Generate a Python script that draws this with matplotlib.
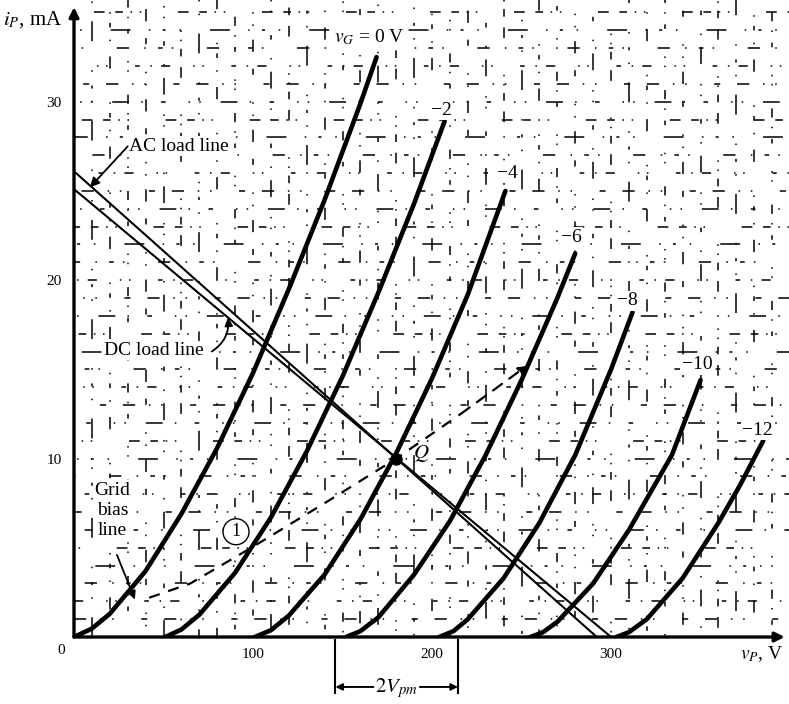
import numpy as np
import matplotlib.pyplot as plt

plt.rcParams['font.family'] = ['Liberation Serif', 'DejaVu Serif']
plt.rcParams['mathtext.fontset'] = 'stix'

# plate characteristics (vP in V, iP in mA), one pair of lists per grid voltage
vp_g0 = [0, 10, 20, 40, 60, 80, 100, 120, 140, 160, 169]
ip_g0 = [0, 0.47, 1.3, 3.7, 6.9, 10.6, 14.8, 19.5, 24.5, 29.9, 32.5]
vp_g2 = [51, 60, 70, 90, 110, 130, 150, 170, 190, 207]
ip_g2 = [0, 0.42, 1.25, 3.6, 6.7, 10.4, 14.6, 19.3, 24.3, 28.9]
vp_g4 = [101, 110, 120, 140, 160, 180, 200, 220, 241]
ip_g4 = [0, 0.38, 1.2, 3.5, 6.6, 10.3, 14.5, 19.2, 25.0]
vp_g6 = [152, 160, 170, 190, 210, 230, 250, 270, 280]
ip_g6 = [0, 0.33, 1.1, 3.5, 6.5, 10.2, 14.4, 19.0, 21.5]
vp_g8 = [204, 212, 220, 240, 260, 280, 300, 312]
ip_g8 = [0, 0.33, 1.0, 3.3, 6.4, 10.2, 15.0, 18.2]
vp_g10 = [255, 262, 270, 290, 310, 334, 350]
ip_g10 = [0, 0.27, 0.85, 3.0, 6.0, 10.2, 14.4]
vp_g12 = [303, 310, 320, 340, 360, 372, 385]
ip_g12 = [0, 0.27, 1.0, 3.3, 6.4, 8.5, 11.0]

curves = [(vp_g0, ip_g0), (vp_g2, ip_g2), (vp_g4, ip_g4), (vp_g6, ip_g6),
          (vp_g8, ip_g8), (vp_g10, ip_g10), (vp_g12, ip_g12)]
curve_labels = ['$v_G$ = 0 V', '\u22122', '\u22124', '\u22126', '\u22128', '\u221210', '\u221212']
label_v = [165, 205, 242, 278, 309, 348, 382]
label_i = [33.6, 29.5, 26.0, 22.4, 18.85, 15.25, 11.6]

# load lines
ac_v = [0, 292]
ac_i = [26.1, 0]
dc_v = [0, 300]
dc_i = [25.1, 0]

# operating point
q_v, q_i = 180, 10

# self-bias line points
bias_v = [42, 65, 99, 140, 180, 216, 253]
bias_i = [2.2, 3.0, 5.0, 7.5, 10.0, 12.5, 15.2]

# output swing limits
swing_v = [146, 214.5]

x_ticks = [100, 200, 300]
y_ticks = [10, 20, 30]

fig = plt.figure(figsize=(7.89, 7.04), dpi=100)
ax = fig.add_axes([74 / 789, 67 / 704, 715 / 789, 637 / 704])
ax.set_xlim(0, 399.4)
ax.set_ylim(0, 35.7)
for s in ax.spines.values():
    s.set_visible(False)

# broken graph-paper grid behind the curves
patterns = [
    (8, 9, 1, 7, 1, 18, 4, 11),
    (1, 6, 1, 13, 11, 8, 1, 12, 3, 15),
    (5, 5, 1, 5, 1, 24, 7, 7),
    (13, 12, 1, 8, 2, 9, 1, 19),
    (1, 8, 3, 6, 1, 22, 8, 10),
    (3, 7, 1, 6, 6, 15, 1, 5, 1, 18),
]
for k, y in enumerate(np.arange(1, 36, 1)):
    pat = patterns[(k * 5) % len(patterns)]
    off = (k * 17) % sum(pat)
    ax.plot([0, 400], [y, y], color='k', lw=1.1, zorder=0,
            linestyle=(off, pat), solid_capstyle='butt')
for k, x in enumerate(np.arange(10, 400, 10)):
    pat = patterns[(k * 7 + 3) % len(patterns)]
    off = (k * 23) % sum(pat)
    ax.plot([x, x], [0, 36], color='k', lw=1.1, zorder=0,
            linestyle=(off, pat), solid_capstyle='butt')

# plate curves
for (v, i), lab, lv, li in zip(curves, curve_labels, label_v, label_i):
    ax.plot(v, i, color='k', lw=3.3, zorder=3, solid_capstyle='round')
    ax.text(lv, li, lab, fontsize=14, ha='center', va='center', zorder=5,
            bbox=dict(facecolor='white', edgecolor='none', pad=1))

ax.plot(ac_v, ac_i, color='k', lw=1.5, zorder=4)
ax.plot(dc_v, dc_i, color='k', lw=1.5, zorder=4)
ax.plot(q_v, q_i, 'o', color='k', ms=8, zorder=5)
ax.text(194, 10.3, '$Q$', fontsize=15, ha='center', va='center', zorder=5)

# grid bias line with arrow at the end
ax.plot(bias_v[:-1], bias_i[:-1], color='k', lw=1.6, zorder=4, linestyle=(0, (5, 4)))
ax.annotate('', xy=(bias_v[-1], bias_i[-1]), xytext=(bias_v[-2], bias_i[-2]),
            arrowprops=dict(arrowstyle='-|>', color='k', lw=1.6, linestyle=(0, (5, 4)),
                            mutation_scale=12, shrinkA=0, shrinkB=0), zorder=4)

ax.text(90.5, 5.9, '1', fontsize=13, ha='center', va='center', zorder=6,
        bbox=dict(boxstyle='circle,pad=0.25', facecolor='white', edgecolor='k', lw=1))

# callouts
box = dict(facecolor='white', edgecolor='none', pad=1)
ax.text(30.5, 27.5, 'AC load line', fontsize=14, ha='left', va='center', zorder=6, bbox=box)
ax.annotate('', xy=(8.9, 25.2), xytext=(30, 27.5),
            arrowprops=dict(arrowstyle='-|>', color='k', lw=1.3, mutation_scale=14,
                            shrinkA=0, shrinkB=0), zorder=6)
ax.text(72.5, 16.05, 'DC load line', fontsize=14, ha='right', va='center', zorder=6, bbox=box)
ax.annotate('', xy=(86, 17.9), xytext=(77, 16.0),
            arrowprops=dict(arrowstyle='-|>', color='k', lw=1.3, mutation_scale=12,
                            shrinkA=0, shrinkB=0, connectionstyle='arc3,rad=0.3'), zorder=6)
ax.text(21.5, 7.1, 'Grid\nbias\nline', fontsize=14, ha='center', va='center', zorder=6,
        linespacing=1.25, bbox=box)
ax.annotate('', xy=(34, 2.1), xytext=(24, 4.6),
            arrowprops=dict(arrowstyle='-|>', color='k', lw=1.3, mutation_scale=12,
                            shrinkA=0, shrinkB=0), zorder=6)

# axes with arrowheads
ax.annotate('', xy=(0, 35.3), xytext=(0, 0),
            arrowprops=dict(arrowstyle='-|>', color='k', lw=2.4, mutation_scale=14,
                            shrinkA=0, shrinkB=0), annotation_clip=False, zorder=7)
ax.annotate('', xy=(397, 0), xytext=(0, 0),
            arrowprops=dict(arrowstyle='-|>', color='k', lw=2.4, mutation_scale=14,
                            shrinkA=0, shrinkB=0), annotation_clip=False, zorder=7)

ax.set_xticks(x_ticks)
ax.set_yticks(y_ticks)
ax.set_xticklabels([str(t) for t in x_ticks], fontsize=11)
ax.set_yticklabels([str(t) for t in y_ticks], fontsize=11)
ax.tick_params(length=0, pad=8)
ax.tick_params(axis='y', pad=9)
ax.text(-7.3, -0.75, '0', fontsize=11, ha='center', va='center', clip_on=False)

ax.text(-6.5, 34.6, '$i_P$, mA', fontsize=15, ha='right', va='center', clip_on=False)
ax.text(372, -0.95, '$v_P$, V', fontsize=14, ha='left', va='center', clip_on=False)

# 2V_pm dimension below the axis
for sv in swing_v:
    ax.plot([sv, sv], [-0.17, -3.14], color='k', lw=1.5, clip_on=False)
mid = sum(swing_v) / 2
ax.text(mid, -2.85, '$2V_{pm}$', fontsize=15, ha='center', va='center', clip_on=False)
ax.annotate('', xy=(swing_v[0], -2.8), xytext=(mid - 13, -2.8),
            arrowprops=dict(arrowstyle='-|>', color='k', lw=1.4, mutation_scale=10,
                            shrinkA=0, shrinkB=0), annotation_clip=False)
ax.annotate('', xy=(swing_v[1], -2.8), xytext=(mid + 13, -2.8),
            arrowprops=dict(arrowstyle='-|>', color='k', lw=1.4, mutation_scale=10,
                            shrinkA=0, shrinkB=0), annotation_clip=False)

fig.savefig('out.png', dpi=100)
